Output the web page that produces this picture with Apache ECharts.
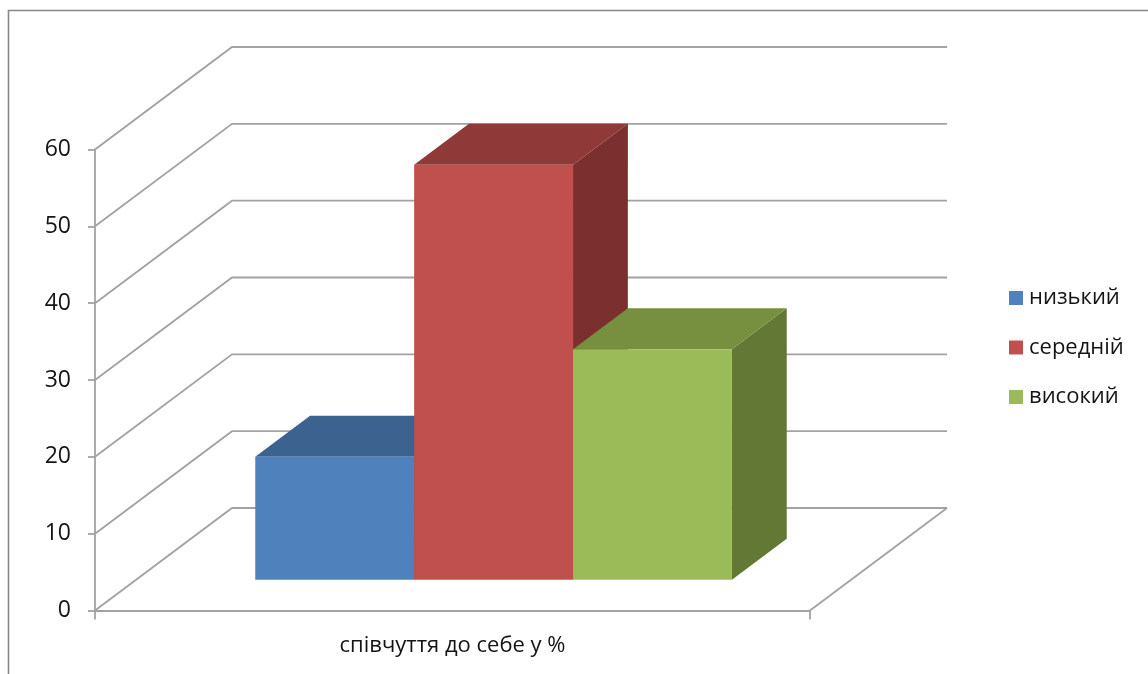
<!DOCTYPE html>
<html>
<head>
<meta charset="utf-8">
<script src="https://cdn.jsdelivr.net/npm/echarts@6/dist/echarts.min.js"></script>
<style>
  html, body { margin: 0; padding: 0; background: #ffffff; }
  #chart { width: 1148px; height: 674px; }
</style>
</head>
<body>
<div id="chart"></div>
<script>
// Category and series data
const categories = ['співчуття до себе у %'];
const seriesNames = ['низький', 'середній', 'високий'];
const lowValues = [16];
const midValues = [54];
const highValues = [30];
const yTicks = [0, 10, 20, 30, 40, 50, 60];

// Face shading per series: front, top, right side
const faceColors = [
  { front: '#4F81BD', top: '#3C6290', side: '#30507A' },
  { front: '#C0504D', top: '#8F3A38', side: '#7B2F2E' },
  { front: '#9BBB59', top: '#76903F', side: '#647836' }
];

// Oblique projection of the depth axis (pixels from front plane to back wall)
const DEPTH = [137, -102.5];
// Bars occupy this slice of the depth
const BAR_DEPTH = [0.3, 0.7];
// Gap between category groups, in bar widths
const GAP = 1.5;
const GRID_COLOR = '#A2A2A2';
const LINE_W = 1.8;
const TEXT_COLOR = '#141414';
const FONT = '"Open Sans", "Noto Sans", sans-serif';

const chart = echarts.init(document.getElementById('chart'), null, { renderer: 'canvas' });

// Back wall gridlines, running from the value axis through the side wall
function renderWall(params, api) {
  const cs = params.coordSys;
  const v = api.value(1);
  const y = api.coord([0, v])[1];
  const left = cs.x, right = cs.x + cs.width;
  const children = [{
    type: 'polyline',
    shape: { points: [[left, y], [left + DEPTH[0], y + DEPTH[1]], [right + DEPTH[0], y + DEPTH[1]]] },
    style: { stroke: GRID_COLOR, lineWidth: LINE_W, fill: null },
    silent: true
  }];
  if (v === 0) {
    // right edge of the floor
    children.push({
      type: 'line',
      shape: { x1: right, y1: y, x2: right + DEPTH[0], y2: y + DEPTH[1] },
      style: { stroke: GRID_COLOR, lineWidth: LINE_W },
      silent: true
    });
  }
  return { type: 'group', children: children };
}

// One 3D column: side face, top face, front face
function makeBarRenderer(idx) {
  const col = faceColors[idx];
  return function (params, api) {
    const cat = api.value(0);
    const base = api.coord([cat, 0]);
    const top = api.coord([cat, api.value(1)]);
    const band = api.size([1, 0])[0];
    const bw = band / (seriesNames.length + GAP);
    const x0 = base[0] - band / 2 + bw * GAP / 2 + idx * bw;
    const x1 = x0 + bw;
    const fdx = DEPTH[0] * BAR_DEPTH[0], fdy = DEPTH[1] * BAR_DEPTH[0];
    const bdx = DEPTH[0] * BAR_DEPTH[1], bdy = DEPTH[1] * BAR_DEPTH[1];
    const ty = top[1], by = base[1];
    return {
      type: 'group',
      children: [
        {
          type: 'polygon',
          shape: { points: [[x1 + fdx, ty + fdy], [x1 + bdx, ty + bdy], [x1 + bdx, by + bdy], [x1 + fdx, by + fdy]] },
          style: { fill: col.side }
        },
        {
          type: 'polygon',
          shape: { points: [[x0 + fdx, ty + fdy], [x1 + fdx, ty + fdy], [x1 + bdx, ty + bdy], [x0 + bdx, ty + bdy]] },
          style: { fill: col.top }
        },
        {
          type: 'rect',
          shape: { x: x0 + fdx, y: ty + fdy, width: bw, height: by - ty },
          style: { fill: col.front }
        }
      ]
    };
  };
}

const valueSets = [lowValues, midValues, highValues];

const barSeries = seriesNames.map(function (name, i) {
  return {
    name: name,
    type: 'custom',
    coordinateSystem: 'cartesian2d',
    renderItem: makeBarRenderer(i),
    itemStyle: { color: faceColors[i].front },
    data: valueSets[i].map(function (v, c) { return [c, v]; }),
    encode: { x: 0, y: 1 },
    z: 3 + i,
    silent: true
  };
});

const option = {
  animation: false,
  backgroundColor: '#ffffff',
  textStyle: { fontFamily: FONT },
  graphic: [{
    type: 'rect',
    shape: { x: 8.5, y: 10.5, width: 1300, height: 800 },
    style: { fill: null, stroke: '#888888', lineWidth: 1.6 },
    silent: true,
    z: 0
  }],
  grid: { left: 95, right: 338, top: 149.5, bottom: 63.5, containLabel: false },
  legend: {
    orient: 'vertical',
    left: 1009,
    top: 287,
    padding: 0,
    icon: 'rect',
    itemWidth: 14,
    itemHeight: 14,
    itemGap: 27.5,
    data: seriesNames,
    textStyle: { fontFamily: FONT, fontSize: 22, color: TEXT_COLOR, lineHeight: 20, padding: [0, 0, 0, 1] },
    selectedMode: false
  },
  xAxis: {
    type: 'category',
    data: categories,
    boundaryGap: true,
    axisLine: { show: true, lineStyle: { color: GRID_COLOR, width: LINE_W } },
    axisTick: { show: true, length: 9, lineStyle: { color: GRID_COLOR, width: LINE_W } },
    axisLabel: { fontFamily: FONT, fontSize: 22, color: TEXT_COLOR, margin: 24 },
    splitLine: { show: false }
  },
  yAxis: {
    type: 'value',
    min: 0,
    max: 60,
    interval: 10,
    axisLine: { show: true, lineStyle: { color: GRID_COLOR, width: LINE_W } },
    axisTick: { show: true, length: 7, lineStyle: { color: GRID_COLOR, width: LINE_W } },
    axisLabel: { fontFamily: FONT, fontSize: 23, color: TEXT_COLOR, margin: 24 },
    splitLine: { show: false }
  },
  series: [{
    name: 'wall',
    type: 'custom',
    coordinateSystem: 'cartesian2d',
    renderItem: renderWall,
    data: yTicks.map(function (v) { return [0, v]; }),
    encode: { x: 0, y: 1 },
    z: 1,
    silent: true
  }].concat(barSeries)
};

chart.setOption(option);
</script>
</body>
</html>
